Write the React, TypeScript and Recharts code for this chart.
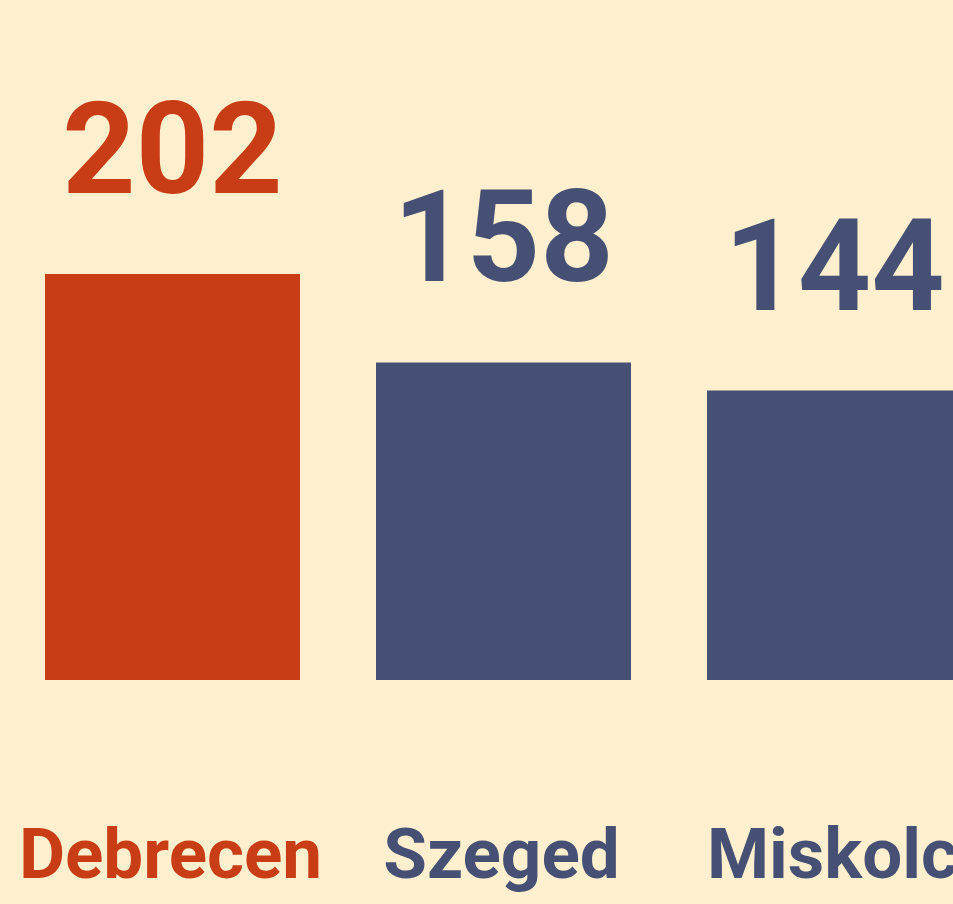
import React from "react";
import { BarChart, Bar, XAxis, YAxis, Cell, LabelList } from "recharts";

const cities = ["Debrecen", "Szeged", "Miskolc"];
const counts = [202, 158, 144];
const barColors = ["#C93D16", "#464F74", "#464F74"];

const data = cities.map((name, i) => ({ name, value: counts[i] }));

const FONT = "Roboto, 'Noto Sans', sans-serif";

const ValueLabel = (props: any) => {
  const { x, y, width, value, index } = props;
  return (
    <text
      x={x + width / 2}
      y={y - 81}
      textAnchor="middle"
      fill={barColors[index]}
      fontSize={128}
      fontWeight={700}
      fontFamily={FONT}
    >
      {value}
    </text>
  );
};

const CityTick = (props: any) => {
  const { x, y, payload, index } = props;
  return (
    <text
      x={x - 2}
      y={y + 198}
      textAnchor="middle"
      fill={barColors[index]}
      fontSize={71}
      fontWeight={700}
      fontFamily={FONT}
    >
      {payload.value}
    </text>
  );
};

export default function App() {
  return (
    <div
      style={{
        position: "absolute",
        left: 0,
        top: 0,
        width: 953,
        height: 904,
        overflow: "hidden",
        background: "#FEF0CE",
      }}
    >
      <BarChart
        width={1000}
        height={904}
        data={data}
        margin={{ top: 274, right: 0, left: 7, bottom: 0 }}
      >
        <XAxis
          dataKey="name"
          axisLine={false}
          tickLine={false}
          tickSize={0}
          tickMargin={0}
          height={224}
          interval={0}
          tick={<CityTick />}
        />
        <YAxis hide domain={[0, 202]} />
        <Bar dataKey="value" barSize={255} isAnimationActive={false}>
          {data.map((d, i) => (
            <Cell key={d.name} fill={barColors[i]} />
          ))}
          <LabelList dataKey="value" content={<ValueLabel />} />
        </Bar>
      </BarChart>
    </div>
  );
}
